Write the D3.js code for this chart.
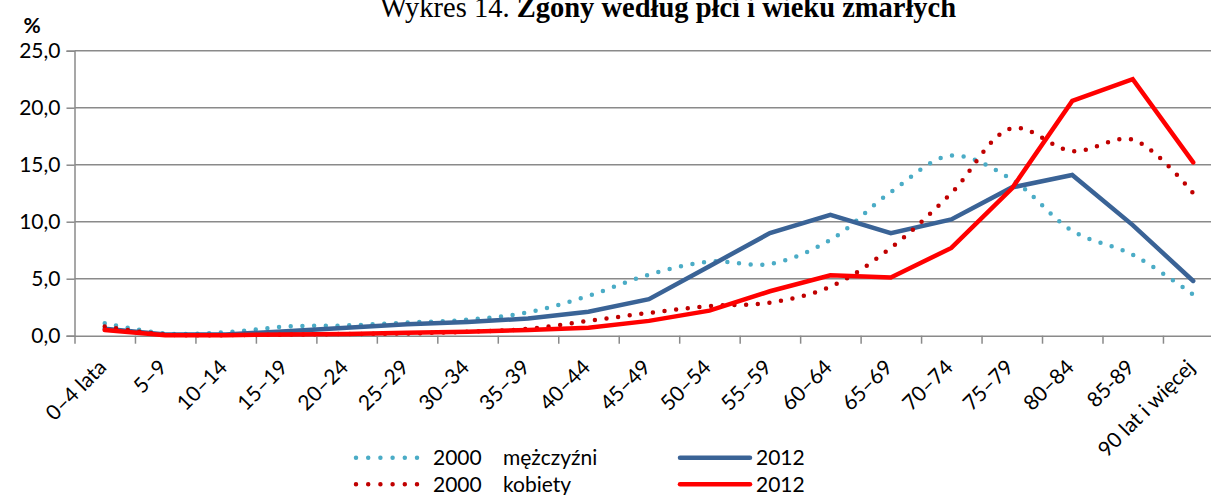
<!DOCTYPE html>
<html>
<head>
<meta charset="utf-8">
<script src="https://cdn.jsdelivr.net/npm/d3@7"></script>
<style>
  body { margin: 0; background: #fff; }
  svg { display: block; font-family: Lato, "Open Sans", sans-serif; }
</style>
</head>
<body>
<div id="chart"></div>
<script>
// Data (percent of deaths by age group)
const ageGroups = ["0–4 lata", "5–9", "10–14", "15–19", "20–24", "25–29", "30–34", "35–39", "40–44", "45–49",
  "50–54", "55–59", "60–64", "65–69", "70–74", "75–79", "80–84", "85-89", "90 lat i więcej"];
const men2000 = [1.1, 0.2, 0.3, 0.8, 0.9, 1.15, 1.4, 2.05, 3.5, 5.35, 6.5, 6.3, 8.4, 12.6, 15.8, 13.7, 9.2, 7.1, 3.6];
const men2012 = [0.6, 0.1, 0.1, 0.4, 0.7, 1.0, 1.2, 1.5, 2.1, 3.2, 6.1, 9.0, 10.6, 9.0, 10.2, 13.0, 14.1, 9.7, 4.8];
const women2000 = [0.8, 0.1, 0.05, 0.1, 0.15, 0.2, 0.35, 0.6, 1.3, 2.0, 2.6, 2.9, 4.3, 7.7, 12.5, 18.2, 16.2, 17.2, 12.5];
const women2012 = [0.5, 0.05, 0.05, 0.1, 0.15, 0.25, 0.35, 0.5, 0.7, 1.3, 2.2, 3.9, 5.3, 5.1, 7.7, 12.9, 20.6, 22.5, 15.2];
const yTicks = [0, 5, 10, 15, 20, 25];
const legendYears = ["2000", "2012", "2000", "2012"];
const legendGroups = ["mężczyźni", "", "kobiety", ""];

// Series in drawing order (Excel order)
const series = [
  { values: men2000, color: "#4BACC6", dotted: true },
  { values: men2012, color: "#3A6396", dotted: false },
  { values: women2000, color: "#C00000", dotted: true },
  { values: women2012, color: "#FF0000", dotted: false },
];

// Set up dimensions
const width = 1211;
const height = 495;
const margin = { top: 50.7, left: 74.5, bottom: 335.7 };
const bandStep = 60.47;
const plotRight = margin.left + bandStep * ageGroups.length;
const gridColor = "#8A8A8A";
const lineWidth = 4.5;
const dotDash = "0 11.7";

// Set up scales
const xScale = d3.scaleBand().domain(ageGroups).range([margin.left, plotRight]);
const xBounds = d3.scaleLinear().domain([0, ageGroups.length]).range([margin.left, plotRight]);
const yScale = d3.scaleLinear().domain([0, 25]).range([margin.bottom, margin.top]);
const formatComma = (d) => d3.format(".1f")(d).replace(".", ",");

const svg = d3.select("#chart").append("svg")
  .attr("width", width)
  .attr("height", height);

// Draw title
const title = svg.append("text")
  .attr("x", 668)
  .attr("y", 17)
  .attr("text-anchor", "middle")
  .style("font-family", "'Liberation Serif', 'Times New Roman', serif")
  .style("font-size", "28.5px");
title.append("tspan").text("Wykres 14. ");
title.append("tspan").attr("font-weight", "bold").text("Zgony według płci i wieku zmarłych");

// Draw unit label
svg.append("text")
  .attr("x", 32)
  .attr("y", 33)
  .attr("text-anchor", "middle")
  .attr("font-weight", "bold")
  .style("font-size", "21px")
  .text("%");

// Draw gridlines
svg.append("g")
  .selectAll("line")
  .data(yTicks.filter((d) => d > 0))
  .join("line")
  .attr("x1", margin.left)
  .attr("x2", plotRight)
  .attr("y1", (d) => yScale(d))
  .attr("y2", (d) => yScale(d))
  .attr("stroke", gridColor)
  .attr("stroke-width", 1.5);

// Draw y axis
const yAxisG = svg.append("g")
  .attr("transform", `translate(${margin.left},0)`)
  .call(d3.axisLeft(yScale).tickValues(yTicks).tickFormat(formatComma).tickSize(8).tickPadding(6));
yAxisG.selectAll("line, path").attr("stroke", gridColor).attr("stroke-width", 1.5);
yAxisG.selectAll("text").attr("fill", "#000").style("font-size", "21px").style("font-family", "Lato, sans-serif");

// Draw x axis (ticks between categories)
const xAxisG = svg.append("g")
  .attr("transform", `translate(0,${margin.bottom})`)
  .call(d3.axisBottom(xBounds).tickValues(d3.range(0, ageGroups.length + 1)).tickFormat("").tickSize(8).tickSizeOuter(0));
xAxisG.selectAll("line, path").attr("stroke", gridColor).attr("stroke-width", 1.5);

// Draw x labels
svg.append("g")
  .selectAll("text")
  .data(ageGroups)
  .join("text")
  .attr("transform", (d) => `translate(${xScale(d) + xScale.bandwidth() / 2 + 3},${margin.bottom + 33}) rotate(-45)`)
  .attr("text-anchor", "end")
  .style("font-size", "21px")
  .text((d) => d);

// Draw lines
const straight = d3.line()
  .x((d, i) => xScale(ageGroups[i]) + xScale.bandwidth() / 2)
  .y((d) => yScale(d));
const smooth = d3.line()
  .x((d, i) => xScale(ageGroups[i]) + xScale.bandwidth() / 2)
  .y((d) => yScale(d))
  .curve(d3.curveCatmullRom.alpha(0.5));

svg.append("g")
  .selectAll("path")
  .data(series)
  .join("path")
  .attr("fill", "none")
  .attr("stroke", (d) => d.color)
  .attr("stroke-width", lineWidth)
  .attr("stroke-linecap", "round")
  .attr("stroke-dasharray", (d) => (d.dotted ? dotDash : null))
  .attr("d", (d) => (d.dotted ? smooth(d.values) : straight(d.values)));

// Draw legend (two columns, filled row by row)
const legendCols = [356, 680];
const legendRows = [457.7, 484.3];
const legendItem = svg.append("g")
  .selectAll("g")
  .data(series)
  .join("g")
  .attr("transform", (d, i) => `translate(${legendCols[i % 2]},${legendRows[Math.floor(i / 2)]})`);

legendItem.append("line")
  .attr("x1", 0)
  .attr("x2", (d) => (d.dotted ? 61 : 70))
  .attr("stroke", (d) => d.color)
  .attr("stroke-width", lineWidth)
  .attr("stroke-linecap", "round")
  .attr("stroke-dasharray", (d) => (d.dotted ? "0 12.2" : null));

legendItem.append("text")
  .attr("x", (d) => (d.dotted ? 77 : 76))
  .attr("y", 7.5)
  .style("font-size", "21px")
  .text((d, i) => legendYears[i]);

legendItem.append("text")
  .attr("x", 147)
  .attr("y", 7.5)
  .style("font-size", "21px")
  .text((d, i) => legendGroups[i]);
</script>
</body>
</html>
